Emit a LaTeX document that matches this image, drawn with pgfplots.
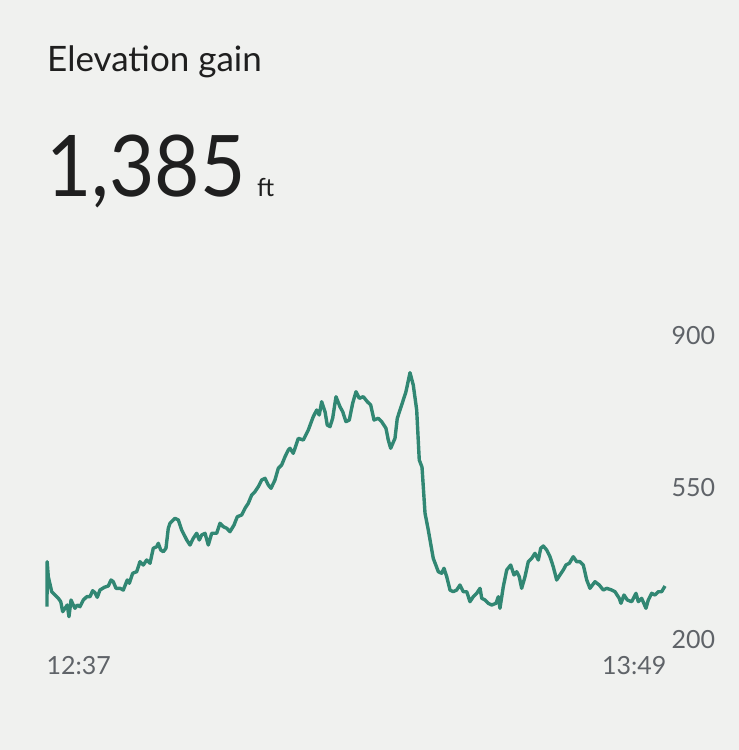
\documentclass[border=0pt]{standalone}
\usepackage{pgfplots}
\pgfplotsset{compat=1.18}
\usepackage{pgfplotstable}
\usepackage{fontspec}
\setmainfont{Lato}
\definecolor{bg}{HTML}{F0F1EF}
\definecolor{linec}{HTML}{318773}
\definecolor{txt}{HTML}{1F1F1F}
\definecolor{tick}{HTML}{5F6368}
\pgfplotstableread{
t v
0 276.7
0.02 380.3
0.15 345.8
0.55 311.2
0.93 303.6
1.32 296.0
1.60 288.2
1.83 265.2
2.10 273.0
2.36 280.6
2.56 253.6
2.80 292.1
3.06 280.6
3.26 273.0
3.53 280.6
3.84 276.7
4.23 292.1
4.63 299.7
5.01 299.7
5.32 313.5
5.59 308.9
5.86 298.3
6.17 315.1
6.68 321.3
7.14 324.3
7.46 338.2
7.72 334.2
8.04 319.0
8.50 319.0
8.89 315.1
9.35 338.2
9.59 330.6
9.98 353.6
10.45 357.3
10.83 380.3
11.22 372.7
11.61 384.2
12.00 376.6
12.38 411.2
12.78 414.8
12.97 422.7
13.25 407.2
13.55 403.3
13.86 411.2
14.13 457.2
14.33 468.7
14.91 480.2
15.30 476.3
15.69 453.3
16.28 430.3
16.66 418.7
17.04 434.2
17.44 445.7
17.74 430.3
18.02 441.8
18.41 445.7
18.79 418.7
19.19 445.7
19.77 445.7
20.15 468.7
20.54 460.9
20.94 457.2
21.32 449.4
21.79 464.8
22.17 483.9
22.68 487.8
23.07 503.3
23.45 514.8
23.85 533.9
24.23 541.5
24.62 553.0
25.01 568.4
25.40 572.3
25.78 556.9
26.10 549.3
26.56 568.4
26.95 595.4
27.34 603.0
27.73 622.0
28.11 637.5
28.31 641.4
28.69 629.9
29.28 664.4
29.86 660.5
30.44 683.5
31.02 714.2
31.42 729.6
31.72 718.1
32.00 748.7
32.39 725.7
32.65 695.1
32.97 691.2
33.28 710.5
33.67 760.2
34.13 737.2
34.45 725.7
34.83 702.7
35.22 706.6
35.61 745.0
36.00 771.7
36.38 756.5
36.85 760.2
37.32 748.7
37.71 741.1
38.10 706.6
38.60 710.5
38.99 702.7
39.49 687.5
39.76 660.5
40.04 641.4
40.54 664.4
40.81 710.5
41.32 741.1
41.82 771.7
42.29 815.5
42.67 787.2
43.07 729.6
43.37 614.5
43.69 598.0
44.04 492.0
44.42 453.3
45.00 388.1
45.59 357.3
45.98 353.6
46.25 365.1
46.57 345.8
46.95 315.1
47.33 311.2
47.73 315.1
48.11 326.6
48.50 311.2
48.90 311.2
49.28 288.2
49.66 299.7
50.06 307.5
50.45 319.0
50.65 296.0
51.03 292.1
51.41 284.5
51.81 280.6
52.31 284.5
52.58 299.7
52.77 273.0
53.16 322.7
53.56 361.2
54.02 372.7
54.41 349.7
54.72 357.3
55.02 345.8
55.30 319.0
55.69 345.8
56.07 380.3
56.47 388.1
56.85 399.6
57.24 384.2
57.52 411.2
57.82 416.4
58.22 407.2
58.60 391.8
58.98 368.8
59.38 338.2
59.76 349.7
60.15 361.2
60.46 372.7
60.85 376.6
61.31 391.8
61.71 380.3
62.09 380.3
62.48 372.7
62.88 338.2
63.26 319.0
63.84 334.2
64.34 326.6
64.81 315.1
65.21 319.0
65.79 315.1
66.17 311.2
66.67 296.0
66.87 284.5
67.22 303.6
67.61 292.1
68.12 288.2
68.62 307.5
68.89 288.2
69.28 296.0
69.78 273.0
70.05 292.1
70.45 307.5
70.83 303.6
71.21 311.2
71.61 311.2
72.00 324.3
}\elev
\begin{document}
\begin{tikzpicture}[x=1bp,y=1bp]
\fill[bg] (0,0) rectangle (739,750);
\node[anchor=base west, inner sep=0pt, text=txt, font=\fontsize{35bp}{40bp}\selectfont] at (47,678) {Elevation gain};
\node[anchor=base west, inner sep=0pt, text=txt, font=\fontsize{85bp}{100bp}\selectfont] at (46,553) {\scalebox{0.92}[1]{1,385}};
\node[anchor=base west, inner sep=0pt, text=txt, font=\fontsize{25bp}{30bp}\selectfont] at (257,553) {ft};
\begin{axis}[
  at={(47bp,110bp)}, anchor=south west,
  width=618bp, height=304bp, scale only axis,
  xmin=0, xmax=72, ymin=200, ymax=900,
  axis line style={draw=none},
  tick style={draw=none},
  ytick={200,550,900},
  yticklabel pos=right,
  yticklabel style={anchor=west, xshift=3bp, text=tick, font=\fontsize{25bp}{30bp}\selectfont},
  /pgf/number format/assume math mode=true,
  xtick={0}, xticklabels={12:37},
  xticklabel style={anchor=north west, yshift=-13bp, xshift=-4bp, text=tick, font=\fontsize{25bp}{30bp}\selectfont},
  extra x ticks={72}, extra x tick labels={13:49},
  extra x tick style={xticklabel style={anchor=north east, xshift=9bp}},
  clip=false,
]
\addplot[linec, line width=3.4bp, line join=round] table[x=t,y=v] {\elev};
\end{axis}
\end{tikzpicture}
\end{document}
